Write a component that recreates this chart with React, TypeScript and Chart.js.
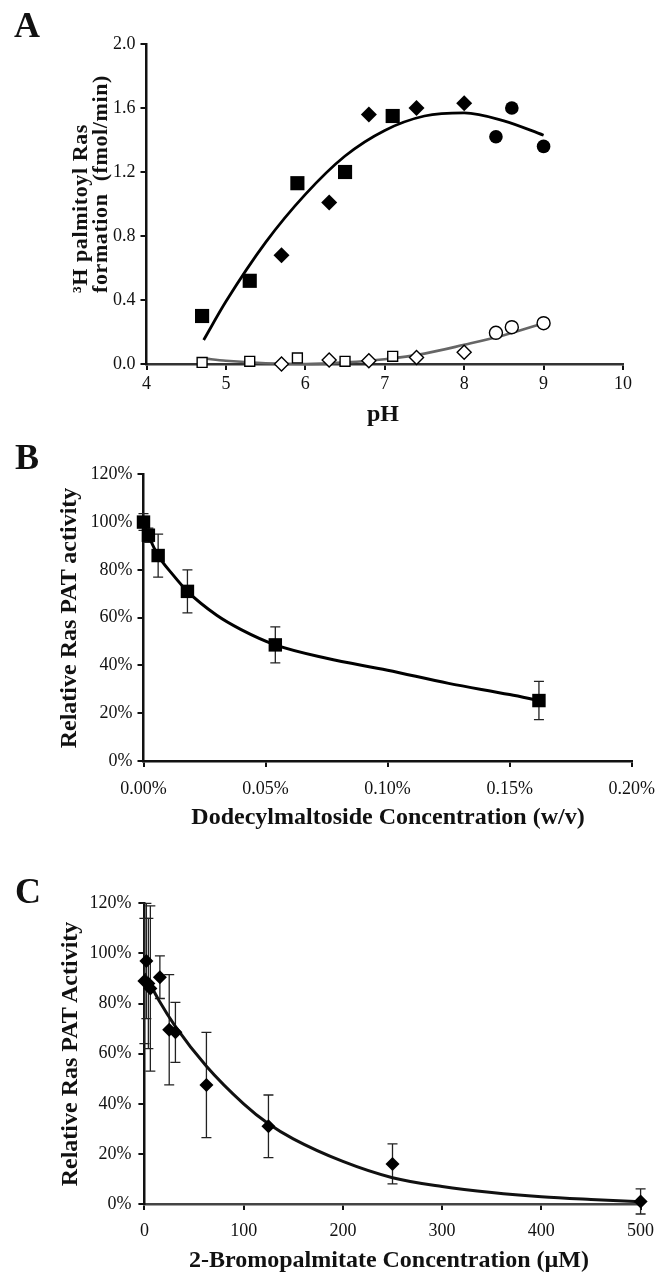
import React, { useEffect, useRef } from "react";
import { Chart, registerables } from "chart.js";
Chart.register(...registerables);

const SERIF = "'Liberation Serif', 'Times New Roman', serif";

// ---------- Panel A (pH profile) ----------
const aClosedSquarePH = [4.7, 5.3, 5.9, 6.5, 7.1];
const aClosedSquareVal = [0.30, 0.52, 1.13, 1.20, 1.55];
const aClosedDiamondPH = [5.7, 6.3, 6.8, 7.4, 8.0];
const aClosedDiamondVal = [0.68, 1.01, 1.56, 1.60, 1.63];
const aClosedCirclePH = [8.4, 8.6, 9.0];
const aClosedCircleVal = [1.42, 1.60, 1.36];
const aOpenSquarePH = [4.7, 5.3, 5.9, 6.5, 7.1];
const aOpenSquareVal = [0.01, 0.017, 0.038, 0.017, 0.048];
const aOpenDiamondPH = [5.7, 6.3, 6.8, 7.4, 8.0];
const aOpenDiamondVal = [0.0, 0.025, 0.02, 0.04, 0.073];
const aOpenCirclePH = [8.4, 8.6, 9.0];
const aOpenCircleVal = [0.195, 0.23, 0.255];
const aFitPH = [4.72, 5.0, 5.5, 6.0, 6.5, 7.0, 7.5, 8.0, 8.5, 9.0];
const aClosedFitVal = [0.15, 0.39, 0.76, 1.06, 1.30, 1.46, 1.55, 1.57, 1.52, 1.43];
const aOpenFitVal = [0.035, 0.02, 0.005, 0.0, 0.01, 0.03, 0.065, 0.12, 0.18, 0.255];
const aXTicks = [4, 5, 6, 7, 8, 9, 10];
const aYTicks = [0, 0.4, 0.8, 1.2, 1.6, 2.0];

// ---------- Panel B (dodecylmaltoside) ----------
const bConc = [0, 0.002, 0.006, 0.018, 0.054, 0.162];
const bActivity = [100, 94.5, 86, 71, 48.6, 25.3];
const bError = [3.5, 3, 9, 9, 7.5, 8];
const bFitConc = [0, 0.002, 0.006, 0.012, 0.018, 0.03, 0.04, 0.054, 0.075, 0.1, 0.125, 0.15, 0.162];
const bFitVal = [100, 94.5, 86, 78, 71, 61, 55, 48.6, 43, 38, 32.5, 27.8, 25.3];
const bXTicks = [0, 0.05, 0.1, 0.15, 0.2];
const bYTicks = [0, 20, 40, 60, 80, 100, 120];

// ---------- Panel C (2-bromopalmitate) ----------
const cConc = [0, 2, 4, 6, 15.6, 25, 31.25, 62.5, 125, 250, 500];
const cActivity = [89, 97, 88, 86, 90.5, 69.5, 68.5, 47.5, 31, 16, 1];
const cError = [25, 23, 26, 33, 8.5, 22, 12, 21, 12.5, 8, 5];
const cFitConc = [0, 15, 31, 62.5, 100, 125, 150, 200, 250, 300, 350, 400, 450, 500];
const cFitVal = [92, 81, 71, 55, 40, 32, 26, 17, 10.5, 7, 4.6, 2.9, 1.8, 0.9];
const cXTicks = [0, 100, 200, 300, 400, 500];
const cYTicks = [0, 20, 40, 60, 80, 100, 120];

type Pt = { x: number; y: number };
const pts = (xs: number[], ys: number[]): Pt[] => xs.map((x, i) => ({ x, y: ys[i] }));

function makeAxis(o: {
  min: number; max: number; ticks: number[]; fmt: (v: number) => string;
  size: number; horizontal: boolean; pad: number; fontSize: number; borderColor?: string;
}) {
  return {
    type: "linear",
    min: o.min,
    max: o.max,
    afterBuildTicks: (s: any) => { s.ticks = o.ticks.map((v) => ({ value: v })); },
    afterFit: (s: any) => { if (o.horizontal) s.height = o.size; else s.width = o.size; },
    ticks: {
      color: "#111",
      font: { family: SERIF, size: o.fontSize },
      padding: o.pad,
      autoSkip: false,
      maxRotation: 0,
      callback: (v: any) => o.fmt(Number(v)),
    },
    grid: { drawOnChartArea: false, drawTicks: true, tickLength: 6, color: "#111", lineWidth: 2 },
    border: { display: true, color: o.borderColor || "#111", width: 2.5 },
  };
}

const errorBars = (dsIndex: number, errs: number[], cap: number) => ({
  id: "errorBars" + dsIndex,
  beforeDatasetsDraw(chart: any) {
    const { ctx, scales } = chart;
    const data = chart.data.datasets[dsIndex].data as Pt[];
    ctx.save();
    ctx.strokeStyle = "#222";
    ctx.lineWidth = 1.3;
    data.forEach((p, i) => {
      const e = errs[i];
      if (!e) return;
      const px = scales.x.getPixelForValue(p.x);
      const top = scales.y.getPixelForValue(p.y + e);
      const bot = scales.y.getPixelForValue(p.y - e);
      ctx.beginPath();
      ctx.moveTo(px, top); ctx.lineTo(px, bot);
      ctx.moveTo(px - cap, top); ctx.lineTo(px + cap, top);
      ctx.moveTo(px - cap, bot); ctx.lineTo(px + cap, bot);
      ctx.stroke();
    });
    ctx.restore();
  },
});

const baseOptions = (padTop: number, padRight: number, x: any, y: any) => ({
  responsive: false,
  animation: false,
  devicePixelRatio: 1,
  events: [],
  layout: { padding: { top: padTop, right: padRight, left: 0, bottom: 0 } },
  plugins: { legend: { display: false }, tooltip: { enabled: false }, title: { display: false } },
  scales: { x, y },
});

const marker = (data: Pt[], style: string, r: number, filled: boolean) => ({
  data,
  showLine: false,
  pointStyle: style,
  pointRadius: r,
  pointBackgroundColor: filled ? "#000" : "#fff",
  pointBorderColor: "#000",
  pointBorderWidth: filled ? 0 : 1.4,
  clip: false,
});

const fitLine = (data: Pt[], color: string, width: number) => ({
  data,
  showLine: true,
  pointRadius: 0,
  borderColor: color,
  borderWidth: width,
  cubicInterpolationMode: "monotone",
  fill: false,
  clip: false,
});

const configA = () => ({
  type: "scatter",
  data: {
    datasets: [
      marker(pts(aClosedSquarePH, aClosedSquareVal), "rect", 10, true),
      marker(pts(aClosedDiamondPH, aClosedDiamondVal), "rectRot", 8, true),
      marker(pts(aClosedCirclePH, aClosedCircleVal), "circle", 6.8, true),
      marker(pts(aOpenSquarePH, aOpenSquareVal), "rect", 7, false),
      marker(pts(aOpenDiamondPH, aOpenDiamondVal), "rectRot", 7, false),
      marker(pts(aOpenCirclePH, aOpenCircleVal), "circle", 6.5, false),
      fitLine(pts(aFitPH, aClosedFitVal), "#000", 2.8),
      fitLine(pts(aFitPH, aOpenFitVal), "#666", 2.6),
    ],
  },
  options: baseOptions(
    44, 43,
    makeAxis({ min: 4, max: 10, ticks: aXTicks, fmt: (v) => String(v), size: 66, horizontal: true, pad: 3, fontSize: 18, borderColor: "#333" }),
    makeAxis({ min: 0, max: 2, ticks: aYTicks, fmt: (v) => v.toFixed(1), size: 146.5, horizontal: false, pad: 5, fontSize: 18 })
  ),
});

const configB = () => ({
  type: "scatter",
  data: {
    datasets: [
      marker(pts(bConc, bActivity), "rect", 9.5, true),
      fitLine(pts(bFitConc, bFitVal), "#000", 3),
    ],
  },
  options: baseOptions(
    44.3, 34.3,
    makeAxis({ min: 0, max: 0.2, ticks: bXTicks, fmt: (v) => v.toFixed(2) + "%", size: 89, horizontal: true, pad: 11, fontSize: 18 }),
    makeAxis({ min: 0, max: 120, ticks: bYTicks, fmt: (v) => Math.round(v) + "%", size: 143.5, horizontal: false, pad: 5, fontSize: 18 })
  ),
  plugins: [errorBars(0, bError, 5)],
});

const configC = () => ({
  type: "scatter",
  data: {
    datasets: [
      marker(pts(cConc, cActivity), "rectRot", 7, true),
      fitLine(pts(cFitConc, cFitVal), "#111", 3),
    ],
  },
  options: baseOptions(
    53.3, 25.4,
    makeAxis({ min: 0, max: 500, ticks: cXTicks, fmt: (v) => String(v), size: 79, horizontal: true, pad: 10, fontSize: 18, borderColor: "#444" }),
    makeAxis({ min: 0, max: 120, ticks: cYTicks, fmt: (v) => Math.round(v) + "%", size: 144.4, horizontal: false, pad: 7, fontSize: 18 })
  ),
  plugins: [errorBars(0, cError, 5)],
});

function ChartCanvas({ config, top, height }: { config: () => any; top: number; height: number }) {
  const ref = useRef<HTMLCanvasElement>(null);
  useEffect(() => {
    const chart = new Chart(ref.current as HTMLCanvasElement, config());
    return () => chart.destroy();
  }, []);
  return (
    <canvas
      ref={ref}
      width={666}
      height={height}
      style={{ position: "absolute", left: 0, top, width: 666, height, display: "block" }}
    />
  );
}

const titleFont: React.CSSProperties = {
  position: "absolute",
  fontFamily: SERIF,
  fontWeight: "bold",
  fontSize: 24,
  lineHeight: 1,
  whiteSpace: "nowrap",
  color: "#111",
};

function HTitle({ text, cx, cy }: { text: string; cx: number; cy: number }) {
  return <div style={{ ...titleFont, left: cx, top: cy, transform: "translate(-50%, -50%)" }}>{text}</div>;
}

function VTitle({ text, cx, cy }: { text: string; cx: number; cy: number }) {
  return (
    <div style={{ ...titleFont, left: cx, top: cy, transform: "translate(-50%, -50%) rotate(-90deg)" }}>{text}</div>
  );
}

function PanelLetter({ text, left, top }: { text: string; left: number; top: number }) {
  return (
    <div style={{ ...titleFont, fontSize: 36, left, top }}>{text}</div>
  );
}

export default function App() {
  return (
    <div style={{ position: "absolute", left: 0, top: 0, width: 666, height: 1283, background: "#fff", overflow: "hidden" }}>
      <ChartCanvas config={configA} top={0} height={430} />
      <ChartCanvas config={configB} top={430} height={420} />
      <ChartCanvas config={configC} top={850} height={433} />

      <PanelLetter text="A" left={14} top={7} />
      <PanelLetter text="B" left={15} top={439} />
      <PanelLetter text="C" left={15} top={873} />

      <div
        style={{
          ...titleFont,
          fontSize: 22,
          letterSpacing: "0.6px",
          left: 70,
          top: 293,
          lineHeight: "20px",
          transformOrigin: "left top",
          transform: "rotate(-90deg)",
        }}
      >
        <div>³H palmitoyl Ras</div>
        <div>formation&nbsp;&nbsp;(fmol/min)</div>
      </div>
      <HTitle text="pH" cx={383} cy={413} />

      <VTitle text="Relative Ras PAT activity" cx={68} cy={618} />
      <HTitle text="Dodecylmaltoside Concentration (w/v)" cx={388} cy={816} />

      <VTitle text="Relative Ras PAT Activity" cx={68.5} cy={1054} />
      <HTitle text="2-Bromopalmitate Concentration (µM)" cx={389} cy={1259} />
    </div>
  );
}
